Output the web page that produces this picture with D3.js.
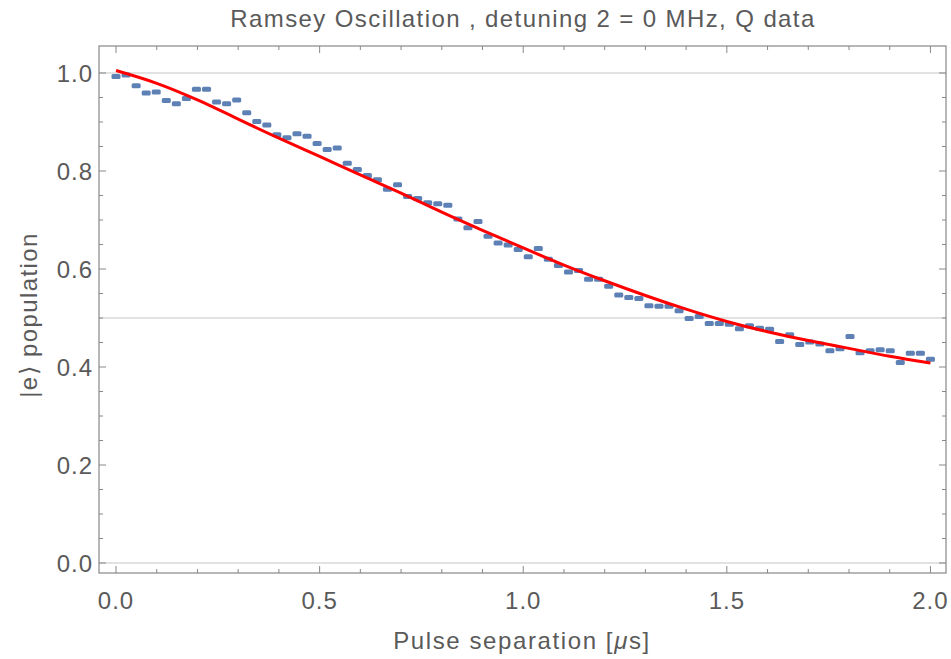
<!DOCTYPE html>
<html>
<head>
<meta charset="utf-8">
<script src="https://cdn.jsdelivr.net/npm/d3@7"></script>
<style>
  body { margin: 0; background: #fff; }
  text { font-family: "Liberation Sans", Arial, sans-serif; fill: #5a5a5a; }
</style>
</head>
<body>
<svg id="chart" width="951" height="659"></svg>
<script>
// measured |e> population, 82 samples from 0 to 2 us
const tStep = 2 / 81;
const population = [
  0.993, 0.996, 0.974, 0.959, 0.961, 0.944, 0.937, 0.948, 0.967, 0.967,
  0.941, 0.937, 0.945, 0.919, 0.901, 0.894, 0.874, 0.868, 0.876, 0.871,
  0.856, 0.844, 0.847, 0.816, 0.803, 0.791, 0.782, 0.763, 0.772, 0.748,
  0.744, 0.735, 0.733, 0.730, 0.702, 0.684, 0.697, 0.667, 0.653, 0.649,
  0.640, 0.625, 0.642, 0.620, 0.607, 0.594, 0.597, 0.579, 0.579, 0.565,
  0.547, 0.542, 0.540, 0.525, 0.524, 0.524, 0.515, 0.499, 0.503, 0.489,
  0.489, 0.487, 0.478, 0.484, 0.479, 0.477, 0.452, 0.466, 0.446, 0.451,
  0.447, 0.433, 0.437, 0.462, 0.429, 0.433, 0.435, 0.433, 0.409, 0.428,
  0.428, 0.416
];

// fit curve
const fitT = [0, 0.1, 0.2, 0.3, 0.4, 0.5, 0.6, 0.7, 0.8, 0.9, 1.0,
              1.1, 1.2, 1.3, 1.4, 1.5, 1.6, 1.7, 1.8, 1.9, 2.0];
const fitY = [1.005, 0.979, 0.945, 0.906, 0.867, 0.830, 0.792, 0.755, 0.716, 0.679, 0.643,
              0.608, 0.576, 0.546, 0.518, 0.493, 0.472, 0.454, 0.438, 0.422, 0.408];

const xMajor = [0, 0.5, 1.0, 1.5, 2.0];
const xMinor = d3.range(0, 2.0001, 0.1);
const yMajor = [0, 0.2, 0.4, 0.6, 0.8, 1.0];
const yMinor = d3.range(0, 1.0001, 0.05);
const gridY = [0, 0.5, 1.0];

const titleText = 'Ramsey Oscillation , detuning 2 = 0 MHz, Q data';
const xTitle = 'Pulse separation [';
const yTitle = '|e\u27E9 population';

const svg = d3.select('#chart');
const frame = { left: 99, right: 946, top: 46, bottom: 573 };

const x = d3.scaleLinear().domain([-0.0418, 2.0382]).range([frame.left, frame.right]);
const y = d3.scaleLinear().domain([-0.0204, 1.0551]).range([frame.bottom, frame.top]);

// gridlines
svg.append('g')
  .selectAll('line')
  .data(gridY)
  .enter()
  .append('line')
  .attr('x1', frame.left).attr('x2', frame.right)
  .attr('y1', d => y(d)).attr('y2', d => y(d))
  .attr('stroke', '#d8d8d8')
  .attr('stroke-width', 1.5);

// frame with ticks on all sides (inward)
const tickColor = '#888';
const frameG = svg.append('g');
frameG.append('rect')
  .attr('x', frame.left).attr('y', frame.top)
  .attr('width', frame.right - frame.left)
  .attr('height', frame.bottom - frame.top)
  .attr('fill', 'none')
  .attr('stroke', tickColor)
  .attr('stroke-width', 1.2);

const isMajor = (v, list) => list.some(m => Math.abs(m - v) < 1e-6);

xMinor.forEach(v => {
  const len = isMajor(v, xMajor) ? 7 : 4;
  frameG.append('line').attr('x1', x(v)).attr('x2', x(v))
    .attr('y1', frame.bottom).attr('y2', frame.bottom - len)
    .attr('stroke', tickColor).attr('stroke-width', 1);
  frameG.append('line').attr('x1', x(v)).attr('x2', x(v))
    .attr('y1', frame.top).attr('y2', frame.top + len)
    .attr('stroke', tickColor).attr('stroke-width', 1);
});
yMinor.forEach(v => {
  const len = isMajor(v, yMajor) ? 7 : 4;
  frameG.append('line').attr('y1', y(v)).attr('y2', y(v))
    .attr('x1', frame.left).attr('x2', frame.left + len)
    .attr('stroke', tickColor).attr('stroke-width', 1);
  frameG.append('line').attr('y1', y(v)).attr('y2', y(v))
    .attr('x1', frame.right).attr('x2', frame.right - len)
    .attr('stroke', tickColor).attr('stroke-width', 1);
});

// tick labels
svg.append('g')
  .selectAll('text')
  .data(xMajor)
  .enter()
  .append('text')
  .attr('x', d => x(d))
  .attr('y', 609)
  .attr('text-anchor', 'middle')
  .style('font-size', '24px')
  .style('letter-spacing', '1px')
  .text(d => d.toFixed(1));

svg.append('g')
  .selectAll('text')
  .data(yMajor)
  .enter()
  .append('text')
  .attr('x', 93)
  .attr('y', d => y(d) + 9)
  .attr('text-anchor', 'end')
  .style('font-size', '24px')
  .style('letter-spacing', '1px')
  .text(d => d.toFixed(1));

// titles
svg.append('text')
  .attr('x', 523).attr('y', 27)
  .attr('text-anchor', 'middle')
  .style('font-size', '24px')
  .style('letter-spacing', '1.4px')
  .text(titleText);

const xt = svg.append('text')
  .attr('x', 522).attr('y', 649)
  .attr('text-anchor', 'middle')
  .style('font-size', '24px')
  .style('letter-spacing', '1.6px');
xt.append('tspan').text(xTitle);
xt.append('tspan').style('font-style', 'italic').text('\u03BC');
xt.append('tspan').text('s]');

svg.append('text')
  .attr('transform', 'translate(37,315) rotate(-90)')
  .attr('text-anchor', 'middle')
  .style('font-size', '24px')
  .style('letter-spacing', '1.4px')
  .text(yTitle);

// data markers
const pts = population.map((v, i) => ({ t: i * tStep, v: v }));
svg.append('g')
  .selectAll('rect')
  .data(pts)
  .enter()
  .append('rect')
  .attr('x', d => x(d.t) - 4.5)
  .attr('y', d => y(d.v) - 2.5)
  .attr('width', 9)
  .attr('height', 5)
  .attr('rx', 1.5)
  .style('fill', '#5e81b5');

// fit line
const line = d3.line()
  .x(d => x(d[0]))
  .y(d => y(d[1]))
  .curve(d3.curveNatural);
svg.append('path')
  .datum(fitT.map((t, i) => [t, fitY[i]]))
  .attr('d', line)
  .attr('fill', 'none')
  .attr('stroke', '#ff0000')
  .attr('stroke-width', 3);
</script>
</body>
</html>
